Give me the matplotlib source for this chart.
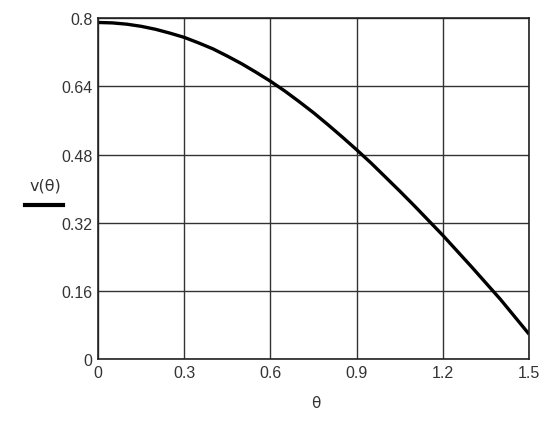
import matplotlib
matplotlib.use("Agg")
import matplotlib.pyplot as plt
from matplotlib.lines import Line2D

# values
theta = [0.0, 0.05, 0.1, 0.15, 0.2, 0.25, 0.3, 0.35, 0.4, 0.45, 0.5, 0.55,
         0.6, 0.65, 0.7, 0.75, 0.8, 0.85, 0.9, 0.95, 1.0, 1.05, 1.1, 1.15,
         1.2, 1.25, 1.3, 1.35, 1.4, 1.45, 1.5]
v = [0.790, 0.789, 0.786, 0.781, 0.774, 0.765, 0.755, 0.742, 0.728, 0.711,
     0.693, 0.673, 0.652, 0.629, 0.604, 0.578, 0.550, 0.521, 0.491, 0.460,
     0.427, 0.394, 0.360, 0.325, 0.290, 0.253, 0.216, 0.178, 0.140, 0.099,
     0.058]

x_ticks = [0, 0.3, 0.6, 0.9, 1.2, 1.5]
x_labels = ["0", "0.3", "0.6", "0.9", "1.2", "1.5"]
y_ticks = [0, 0.16, 0.32, 0.48, 0.64, 0.8]
y_labels = ["0", "0.16", "0.32", "0.48", "0.64", "0.8"]

plt.rcParams['font.family'] = ['Liberation Sans', 'DejaVu Sans']

fig = plt.figure(figsize=(5.57, 4.27), dpi=100)
ax = fig.add_axes([0.176, 0.157, 0.774, 0.798])

ax.plot(theta, v, color='black', lw=2.4, solid_capstyle='butt')

ax.set_xlim(0, 1.5)
ax.set_ylim(0, 0.8)
ax.set_xticks(x_ticks)
ax.set_xticklabels(x_labels)
ax.set_yticks(y_ticks)
ax.set_yticklabels(y_labels)
ax.tick_params(length=0, labelsize=11.5, labelcolor='#333333', pad=4)
ax.grid(True, color='#333333', lw=1.0)
for s in ax.spines.values():
    s.set_color('#222222')
    s.set_linewidth(1.2)

# y label with line sample under it (Mathcad style)
fig.text(45 / 557, 1 - 186 / 427, "v(θ)", ha='center', va='center',
         fontsize=11.5, color='#333333', family=['DejaVu Sans'])
fig.add_artist(Line2D([25 / 557, 63 / 557], [1 - 206 / 427, 1 - 206 / 427],
                      color='black', lw=3))
fig.text(316 / 557, 1 - 404 / 427, "θ", ha='center', va='center',
         fontsize=11, color='#333333', family=['DejaVu Sans'])

fig.savefig("out.png", dpi=100)
